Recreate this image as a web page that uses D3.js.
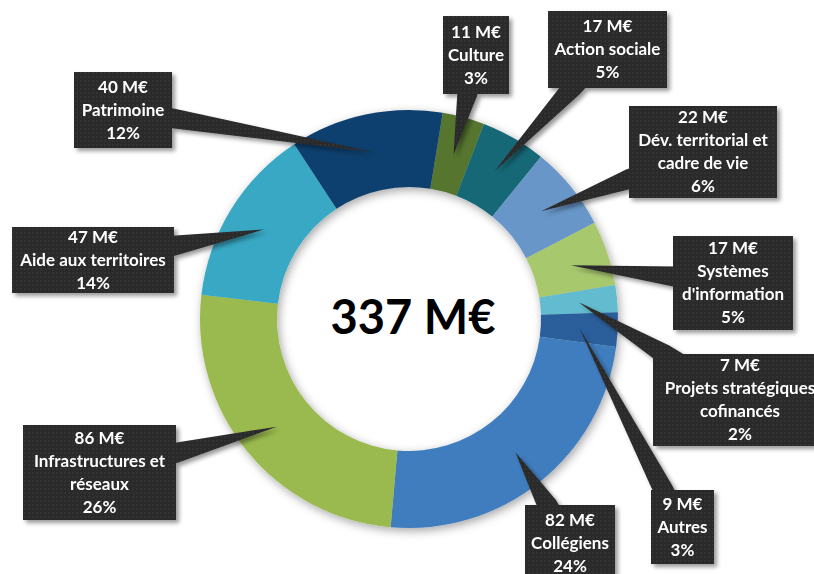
<!DOCTYPE html>
<html>
<head>
<meta charset="utf-8">
<script src="https://cdn.jsdelivr.net/npm/d3@7"></script>
<style>
  body { margin: 0; background: #fff; }
  svg { display: block; }
  text { font-family: Lato, "Open Sans", sans-serif; font-weight: bold; }
</style>
</head>
<body>
<svg id="chart" width="814" height="574"></svg>
<script>
// data (M€), clockwise from the top
var categories = ["Culture", "Action sociale", "Dév. territorial et\ncadre de vie", "Systèmes\nd'information",
  "Projets stratégiques\ncofinancés", "Autres", "Collégiens", "Infrastructures et\nréseaux",
  "Aide aux territoires", "Patrimoine"];
var values = [11, 17, 22, 17, 7, 9, 82, 86, 47, 40];
var pctLabels = ["3%", "5%", "6%", "5%", "2%", "3%", "24%", "26%", "14%", "12%"];
var totalLabel = "337 M€";

var colors = ["#56752f", "#176777", "#6896c9", "#a8c86e", "#62bbcf", "#2a5f9c",
  "#417dbf", "#9aba50", "#39a8c4", "#0e416e"];

// callout boxes: x, y, w, h
var boxes = [
  [443, 16, 66, 78], [548, 11, 119, 77], [629, 106, 148, 92], [673, 236, 120, 94],
  [653, 354, 174, 92], [651, 490, 63, 74], [525, 505, 90, 76], [23, 425, 153, 95],
  [12, 227, 162, 66], [74, 72, 98, 76]
];

var cx = 409, cy = 319, rOut = 209, rIn = 132;
var start = 9.3 * Math.PI / 180;

var svg = d3.select("#chart");
var defs = svg.append("defs");

var pat = defs.append("pattern").attr("id", "dots")
  .attr("width", 4).attr("height", 4).attr("patternUnits", "userSpaceOnUse");
pat.append("rect").attr("width", 4).attr("height", 4).attr("fill", "#2a2a2a");
pat.append("circle").attr("cx", 1).attr("cy", 1).attr("r", 0.8).attr("fill", "#363636");

defs.append("filter").attr("id", "ringShadow").attr("x", "-20%").attr("y", "-20%").attr("width", "140%").attr("height", "140%")
  .append("feDropShadow").attr("dx", 2).attr("dy", 3).attr("stdDeviation", 5)
  .attr("flood-color", "#000").attr("flood-opacity", 0.35);
defs.append("filter").attr("id", "boxShadow").attr("x", "-20%").attr("y", "-20%").attr("width", "140%").attr("height", "140%")
  .append("feDropShadow").attr("dx", 3).attr("dy", 3).attr("stdDeviation", 2)
  .attr("flood-color", "#000").attr("flood-opacity", 0.4);

var pie = d3.pie().sort(null).value(function(d) { return d; })
  .startAngle(start).endAngle(start + 2 * Math.PI);
var arcs = pie(values);
var arc = d3.arc().innerRadius(rIn).outerRadius(rOut);

var ring = svg.append("g")
  .attr("transform", "translate(" + cx + "," + cy + ")")
  .attr("filter", "url(#ringShadow)");
ring.selectAll("path").data(arcs).enter().append("path")
  .attr("d", arc)
  .attr("fill", function(d, i) { return colors[i]; });

svg.append("text")
  .attr("x", 413).attr("y", 334)
  .attr("text-anchor", "middle")
  .attr("font-size", 47)
  .attr("fill", "#000")
  .text(totalLabel);

// callouts
var calls = svg.selectAll("g.callout").data(arcs).enter().append("g")
  .attr("class", "callout")
  .attr("filter", "url(#boxShadow)");

calls.each(function(d, i) {
  var g = d3.select(this);
  var b = boxes[i];
  var c = arc.centroid(d);
  var tip = [cx + c[0], cy + c[1]];
  var bc = [b[0] + b[2] / 2, b[1] + b[3] / 2];
  var dx = tip[0] - bc[0], dy = tip[1] - bc[1];
  var len = Math.sqrt(dx * dx + dy * dy);
  var ux = dx / len, uy = dy / len;
  var t = Math.min(b[2] / 2 / Math.max(Math.abs(dx), 1e-6), b[3] / 2 / Math.max(Math.abs(dy), 1e-6));
  var ex = [bc[0] + dx * t, bc[1] + dy * t];
  var hw = 10, px = -uy * hw, py = ux * hw;
  var pts = [
    [bc[0] + px, bc[1] + py], [ex[0] + px, ex[1] + py], tip,
    [ex[0] - px, ex[1] - py], [bc[0] - px, bc[1] - py]
  ];
  g.append("path").attr("d", d3.line()(pts) + "Z").attr("fill", "url(#dots)");
  g.append("rect").attr("x", b[0]).attr("y", b[1]).attr("width", b[2]).attr("height", b[3])
    .attr("fill", "url(#dots)");

  var lines = [values[i] + " M€"].concat(categories[i].split("\n")).concat([pctLabels[i]]);
  var lh = 23;
  var y0 = bc[1] - (lines.length - 1) * lh / 2;
  var txt = g.append("text").attr("text-anchor", "middle").attr("font-size", 17).attr("fill", "#fff");
  lines.forEach(function(l, k) {
    txt.append("tspan").attr("x", bc[0]).attr("y", y0 + k * lh).attr("dy", "0.35em").text(l);
  });
});
</script>
</body>
</html>
